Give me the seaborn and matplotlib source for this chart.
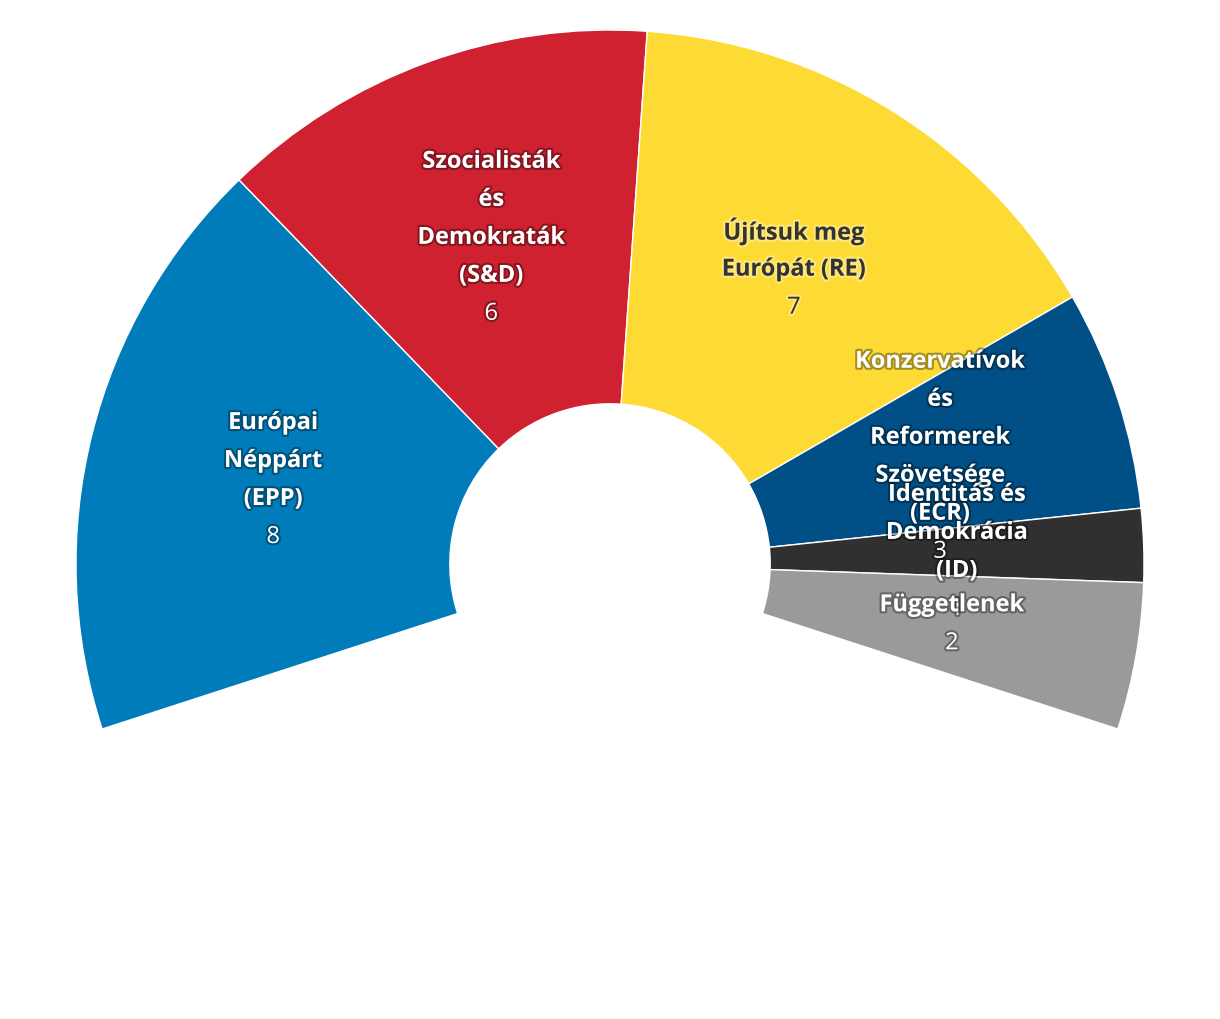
import numpy as np
import seaborn as sns
import matplotlib.pyplot as plt
import matplotlib.patheffects as pe

# Seats per group
groups = ['Európai\nNéppárt\n(EPP)',
          'Szocialisták\nés\nDemokraták\n(S&D)',
          'Újítsuk meg\nEurópát (RE)',
          'Konzervatívok\nés\nReformerek\nSzövetsége\n(ECR)',
          'Identitás és\nDemokrácia\n(ID)',
          'Függetlenek']
seats = [8, 6, 7, 3, 1, 2]
colors = ['#017cba', '#cf2130', '#fedb34', '#005087', '#303030', '#9a9a9a']
text_colors = ['white', 'white', '#333333', 'white', 'white', 'white']

sns.set_theme(style='white')
plt.rcParams['font.family'] = ['Open Sans', 'DejaVu Sans']

fig = plt.figure(figsize=(12.2, 10.2), dpi=100)
ax = fig.add_axes([0, 0, 1, 1])

# arc spans 216 degrees -> fraction 0.6 of a full circle
frac = np.array(seats) / sum(seats) * 0.6
wedges, _ = ax.pie(frac, colors=colors, startangle=198, counterclock=False,
                   normalize=False, radius=1.0,
                   wedgeprops=dict(width=0.70, edgecolor='white', linewidth=1))

ax.set_xlim(-610 / 534, 610 / 534)
ax.set_ylim(-455 / 534, 565 / 534)
ax.set_aspect('equal')
ax.axis('off')

# labels at mid radius of each wedge
r_lab = 0.65
line_h = 38 / 534
for w, name, n, tc in zip(wedges, groups, seats, text_colors):
    mid = np.deg2rad((w.theta1 + w.theta2) / 2)
    cx, cy = r_lab * np.cos(mid), r_lab * np.sin(mid)
    lines = name.split('\n') + [str(n)]
    halo = 'black' if tc == 'white' else 'white'
    for i, ln in enumerate(lines):
        y = cy + (len(lines) - 1) / 2 * line_h - i * line_h
        ax.text(cx, y, ln, ha='center', va='center', fontsize=17,
                color=tc, fontweight='normal' if i == len(lines) - 1 else 'bold',
                path_effects=[pe.withStroke(linewidth=3, foreground=halo, alpha=0.35)])

fig.savefig('out.png', dpi=100)
